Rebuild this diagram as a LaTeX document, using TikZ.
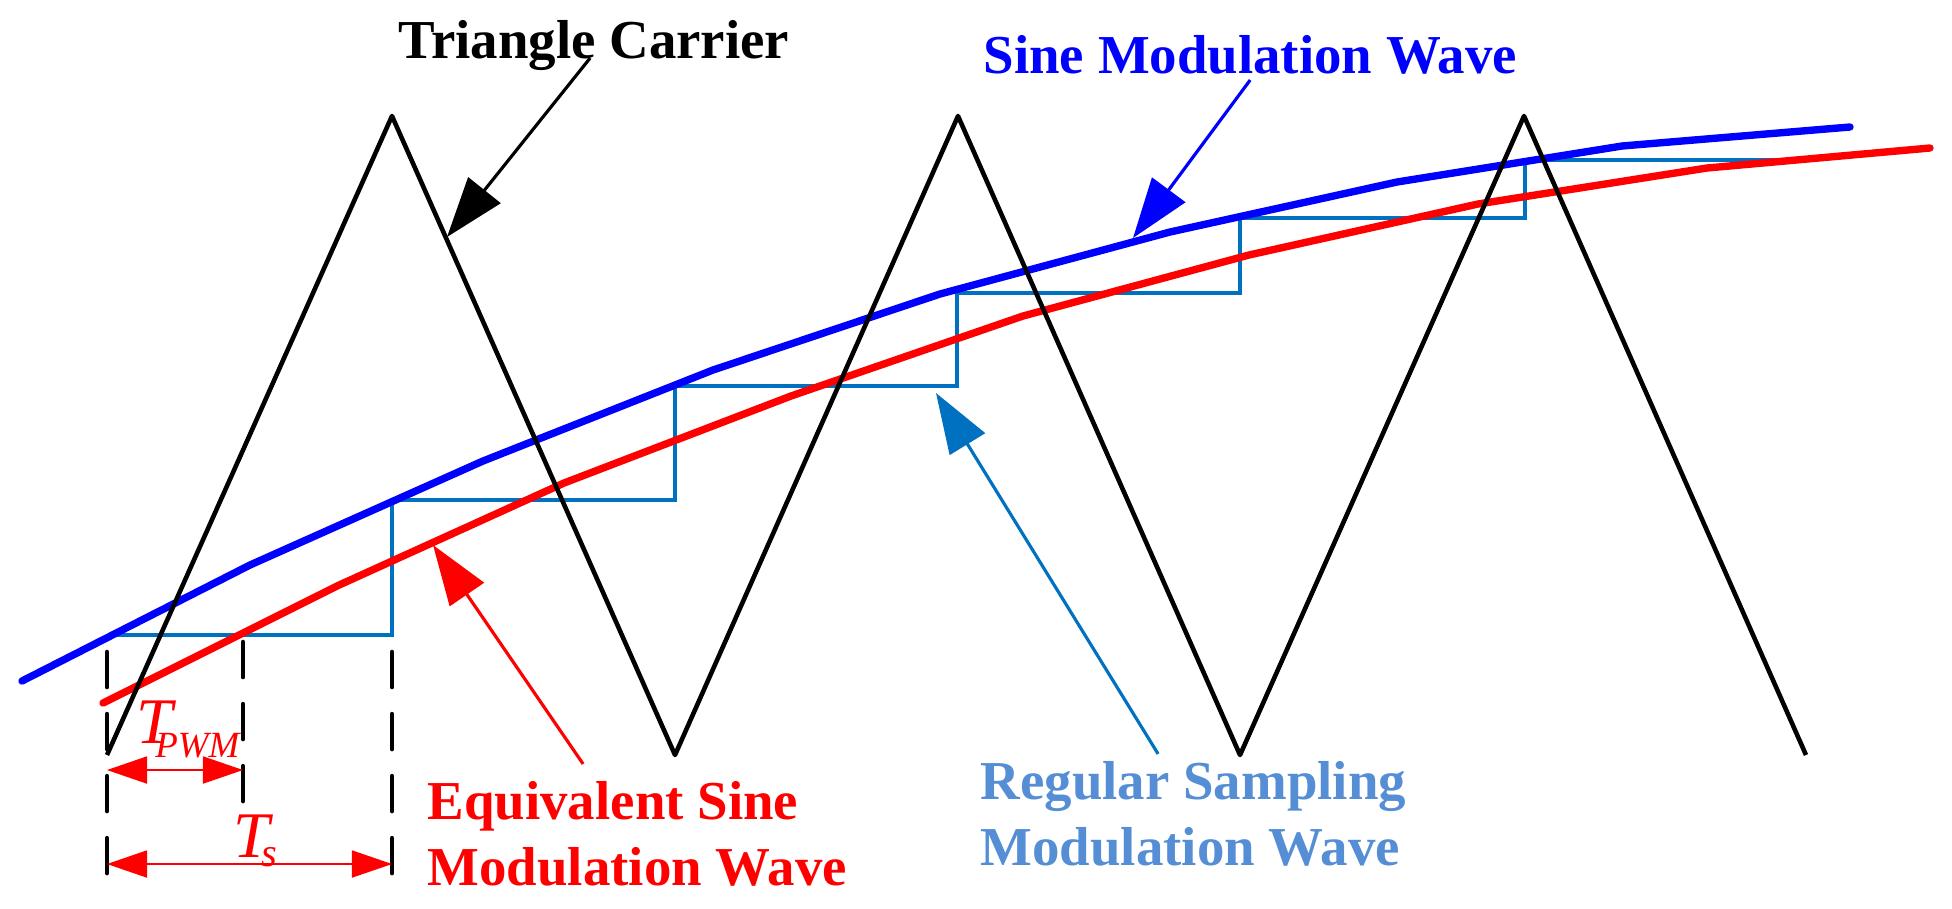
\documentclass[tikz,border=0pt]{standalone}
\usepackage{fontspec}
\setmainfont{Liberation Serif}
\usetikzlibrary{scopes,arrows.meta}
\definecolor{stepblue}{HTML}{0070C0}
\definecolor{textblue}{HTML}{558ED5}
\tikzset{
    carrier/.style={line width=1.3pt, line join=round},
    wave/.style={line width=2.1pt, line cap=round, line join=round},
    stairs/.style={line width=1.25pt, stepblue},
    pointer/.style={line width=0.9pt, -{Triangle[length=0.6cm, width=0.41cm]}},
    guide/.style={line width=1.3pt, line cap=round, dash pattern=on 0.35cm off 0.27cm},
    span/.style={red, line width=0.5pt, {Triangle[length=0.4cm, width=0.27cm]}-{Triangle[length=0.4cm, width=0.27cm]}},
    caption/.style={font=\bfseries\fontsize{15.6}{18.6}\selectfont, anchor=base west, inner sep=0pt, align=left},
    period/.style={font=\itshape\fontsize{18.5}{20}\selectfont, anchor=base west, inner sep=0pt, red}
}

\begin{document}
\begin{tikzpicture}[x=0.01cm, y=-0.01cm]
    \useasboundingbox (0,0) rectangle (1952,908);
    %regular sampling
    \draw[stairs] (108,635) -- (392,635) -- (392,500) -- (675,500) -- (675,386) -- (957,386) -- (957,293)
        -- (1240,293) -- (1240,218) -- (1525,218) -- (1525,160) -- (1793,160);
    %sine
    \draw[wave, blue] (22,681) -- (250,565) -- (483,461) -- (713,370) -- (940,294) -- (1170,232)
        -- (1397,182) -- (1622,146) -- (1850,127);
    %equivalent
    \draw[wave, red] (103,703) -- (337,586) -- (564,483) -- (791,396) -- (1023,316) -- (1249,255)
        -- (1478,204) -- (1707,168) -- (1930,148);
    %carrier
    \draw[carrier] (107,755) -- (392,116) -- (675,755) -- (958,116) -- (1240,755) -- (1524,116) -- (1806,755);
    %T_PWM, T_s
    { [guide]
    \draw (107,652) -- (107,877);
    \draw (243,642) -- (243,803);
    \draw (392,652) -- (392,877);
    }
    \coordinate (pwm a) at (107,770);
    \coordinate (pwm b) at (243,770);
    \coordinate (ts a) at (107,864);
    \coordinate (ts b) at (392,864);
    \draw[span] (pwm a) -- (pwm b);
    \draw[span] (ts a) -- (ts b);
    \node[period] (tpwm) at (136,743) {T\kern-5pt\raisebox{-4pt}{\fontsize{10.5}{12}\selectfont PWM}};
    \node[period] (ts) at (233,857) {T\kern-2.3pt\raisebox{-2.8pt}{\fontsize{11.5}{12}\selectfont s}};
    %labels
    \node[caption] (tc) at (398,58) {Triangle Carrier};
    \node[caption, blue] (sm) at (983,73) {Sine Modulation Wave};
    \node[caption, red] (eq) at (427,885) {Equivalent Sine\\Modulation Wave};
    \node[caption, textblue] (rs) at (980,865) {Regular Sampling\\Modulation Wave};
    \coordinate (tc tip) at (447,237);
    \coordinate (sm tip) at (1133,238);
    \coordinate (eq tip) at (433,545);
    \coordinate (rs tip) at (936,393);
    \draw[pointer] ([xshift=1.92cm]tc.base west) -- (tc tip);
    \draw[pointer, blue] ([xshift=2.67cm, yshift=-0.07cm]sm.base west) -- (sm tip);
    \draw[pointer, red] ([xshift=1.56cm, yshift=1.21cm]eq.base west) -- (eq tip);
    \draw[pointer, stepblue] ([xshift=1.78cm, yshift=1.11cm]rs.base west) -- (rs tip);
\end{tikzpicture}
\end{document}
